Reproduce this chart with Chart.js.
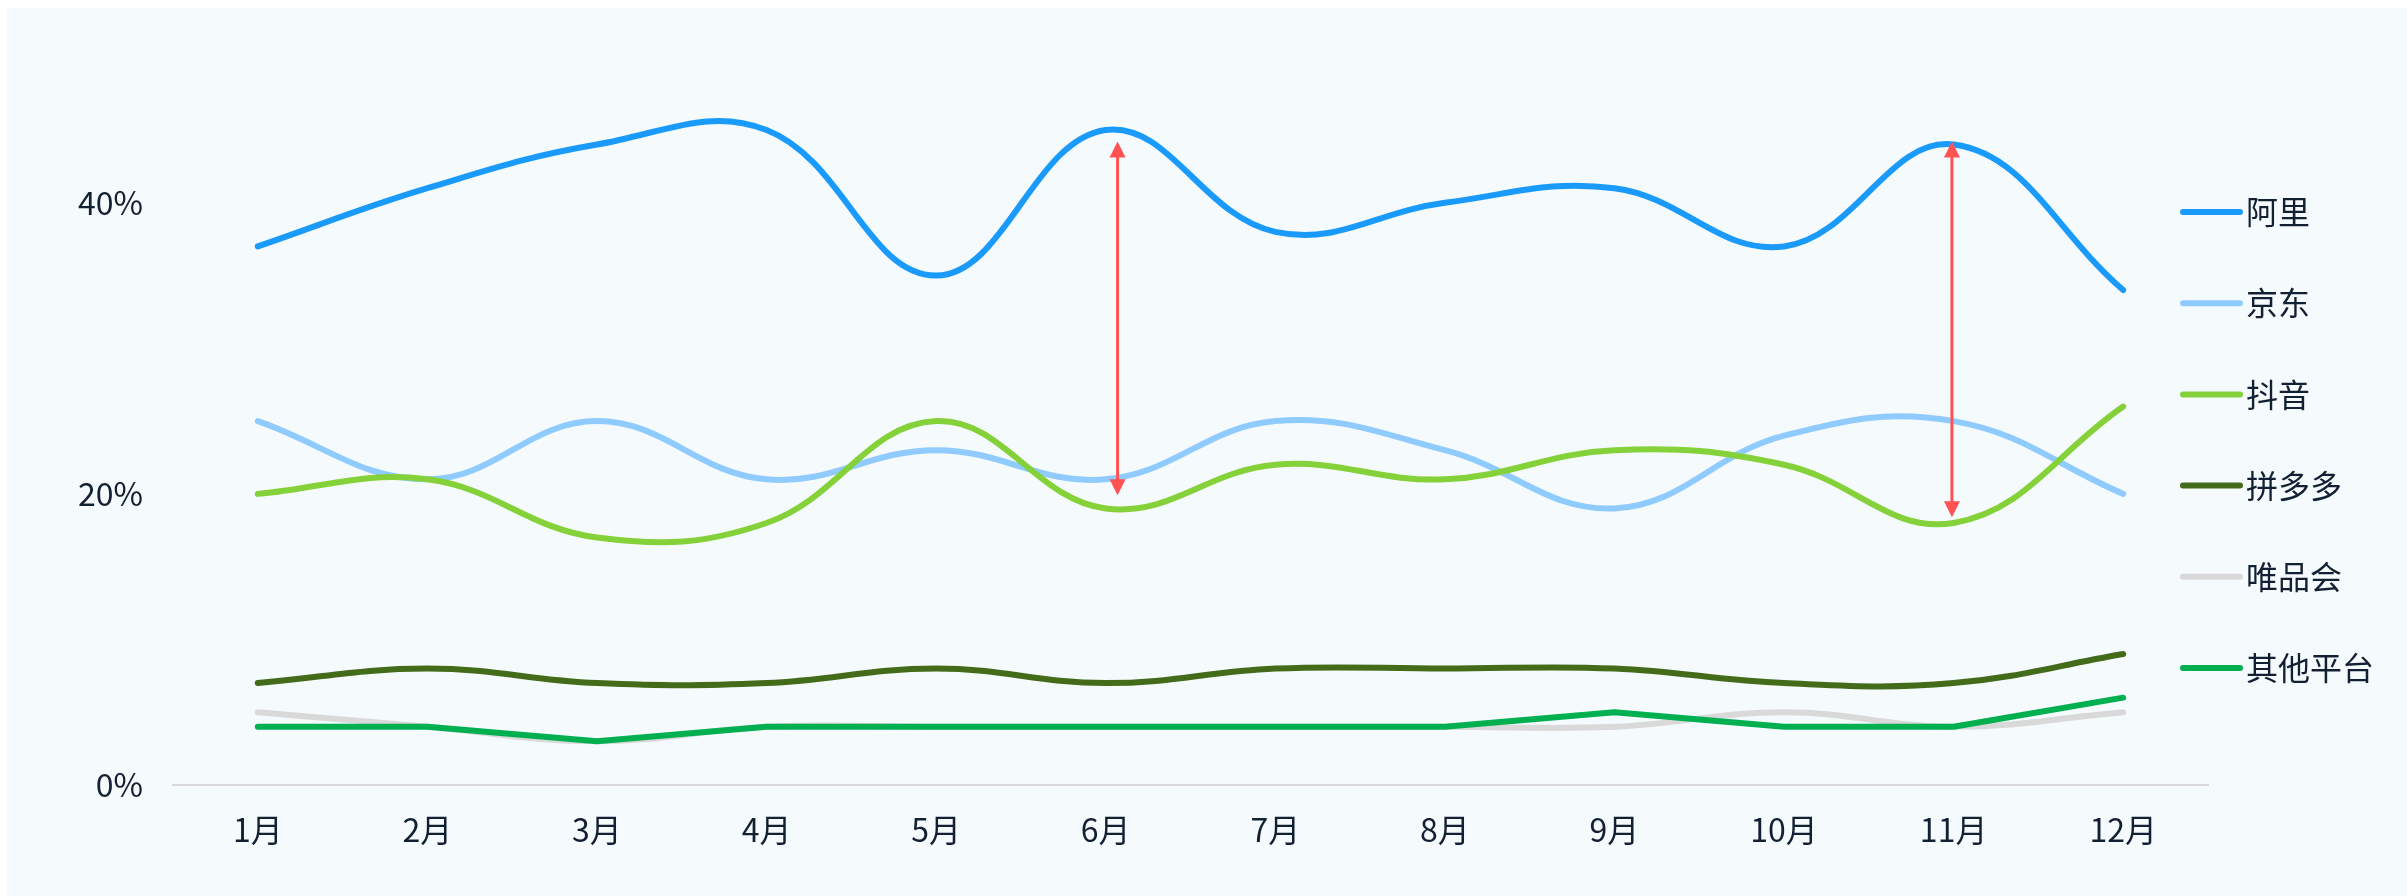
<!DOCTYPE html>
<html><head><meta charset="utf-8">
<script src="https://cdn.jsdelivr.net/npm/chart.js@4"></script>
<style>
html,body{margin:0;padding:0;background:#fff;width:2407px;height:896px;overflow:hidden}
#wrap{position:absolute;left:7px;top:8px;width:2400px;height:888px;background:#F5FAFD}
canvas{display:block}
</style></head><body>
<div id="wrap"><canvas id="c" width="2400" height="888"></canvas></div>
<script>
// ---- data ----
const months = ['1月','2月','3月','4月','5月','6月','7月','8月','9月','10月','11月','12月'];
const seriesNames = ['阿里','京东','抖音','拼多多','唯品会','其他平台'];
const ali    = [37,41,44,45,35,45,38,40,41,37,44,34];
const jd     = [25,21,25,21,23,21,25,23,19,24,25,20];
const douyin = [20,21,17,18,25,19,22,21,23,22,18,26];
const pdd    = [7,8,7,7,8,7,8,8,8,7,7,9];
const vip    = [5,4,3,4,4,4,4,4,4,5,4,5];
const others = [4,4,3,4,4,4,4,4,5,4,4,6];
const yTickValues = [0,20,40];
// arrow annotations: category position, top value, bottom value
const arrowPos    = [5.07, 9.99];
const arrowTop    = [44.2, 44.2];
const arrowBottom = [19.9, 18.4];

// ---- styles ----
const colors = ['#1A9BFC','#8FCBFF','#84D13A','#436B19','#D9D9D9','#00B050'];
const tensions = [0.4,0.4,0.4,0.4,0.4,0];
const FONT = '"Noto Sans CJK SC","Noto Sans",sans-serif';
const TEXT = '#122033';
const seriesData = [ali, jd, douyin, pdd, vip, others];

const datasets = seriesData.map((d,i)=>({
  label: seriesNames[i],
  data: d,
  borderColor: colors[i],
  backgroundColor: colors[i],
  borderWidth: 6,
  pointRadius: 0,
  pointHoverRadius: 0,
  tension: tensions[i],
  borderCapStyle: 'round',
  borderJoinStyle: 'round',
  fill: false,
  order: seriesData.length - 1 - i
}));

const arrowPlugin = {
  id: 'arrows',
  afterDatasetsDraw(chart, args, o) {
    const {ctx, scales:{x, y}} = chart;
    ctx.save();
    ctx.strokeStyle = o.color; ctx.fillStyle = o.color; ctx.lineWidth = o.width;
    arrowPos.forEach((p,i)=>{
      const px = x.getPixelForValue(p);
      const y1 = y.getPixelForValue(arrowTop[i]);
      const y2 = y.getPixelForValue(arrowBottom[i]);
      ctx.beginPath();
      ctx.moveTo(px, y1 + o.head - 1); ctx.lineTo(px, y2 - o.head + 1); ctx.stroke();
      ctx.beginPath();
      ctx.moveTo(px, y1); ctx.lineTo(px - o.half, y1 + o.head); ctx.lineTo(px + o.half, y1 + o.head); ctx.closePath(); ctx.fill();
      ctx.beginPath();
      ctx.moveTo(px, y2); ctx.lineTo(px - o.half, y2 - o.head); ctx.lineTo(px + o.half, y2 - o.head); ctx.closePath(); ctx.fill();
    });
    ctx.restore();
  }
};

const sideLegend = {
  id: 'sideLegend',
  afterDraw(chart, args, o) {
    const ctx = chart.ctx;
    ctx.save();
    ctx.font = o.fontSize + 'px ' + FONT;
    ctx.textBaseline = 'middle';
    ctx.textAlign = 'left';
    chart.data.datasets.forEach((ds,i)=>{
      const cy = o.top + i * o.step;
      ctx.strokeStyle = ds.borderColor;
      ctx.lineWidth = 6;
      ctx.lineCap = 'round';
      ctx.beginPath(); ctx.moveTo(o.x1, cy); ctx.lineTo(o.x2, cy); ctx.stroke();
      ctx.fillStyle = TEXT;
      ctx.fillText(ds.label, o.textX, cy);
    });
    ctx.restore();
  }
};

new Chart(document.getElementById('c'), {
  type: 'line',
  data: { labels: months, datasets },
  options: {
    responsive: false,
    animation: false,
    devicePixelRatio: 1,
    layout: { padding: { left: 0, top: 43, right: 199, bottom: 0 } },
    plugins: {
      legend: { display: false },
      tooltip: { enabled: false },
      arrows: { color: '#FF5252', width: 3, head: 16, half: 8 },
      sideLegend: { x1: 2176, x2: 2233, textX: 2239, top: 204, step: 91.2, fontSize: 32 }
    },
    scales: {
      x: {
        offset: true,
        grid: { display: false, drawTicks: false },
        border: { display: true, color: '#D9D9D9', width: 2 },
        ticks: { color: TEXT, font: { family: FONT, size: 32 }, padding: 26, maxRotation: 0, autoSkip: false },
        afterFit(s) { s.height = 111; }
      },
      y: {
        min: 0, max: 50,
        grid: { display: false, drawTicks: false },
        border: { display: false },
        afterBuildTicks(s) { s.ticks = yTickValues.map(v => ({ value: v })); },
        ticks: { color: TEXT, font: { family: FONT, size: 32 }, padding: 30, callback: v => v + '%' },
        afterFit(s) { s.width = 166; }
      }
    }
  },
  plugins: [arrowPlugin, sideLegend]
});
</script>
</body></html>
